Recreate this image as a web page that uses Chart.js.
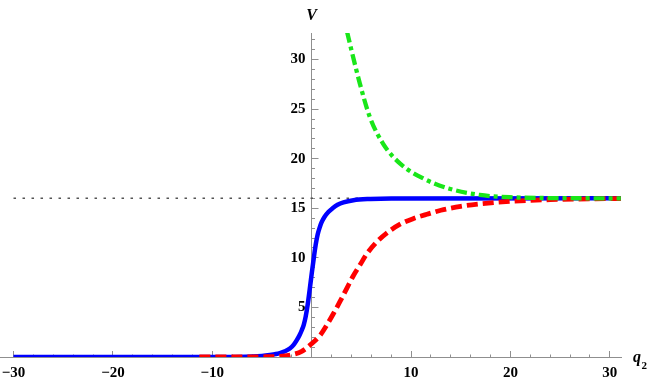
<!DOCTYPE html>
<html>
<head>
<meta charset="utf-8">
<script src="https://cdn.jsdelivr.net/npm/chart.js@4/dist/chart.umd.min.js"></script>
<style>
html, body { margin: 0; padding: 0; background: #ffffff; }
#wrap { width: 653px; height: 382px; position: relative; }
</style>
</head>
<body>
<div id="wrap"><canvas id="c"></canvas></div>
<script>
// ---- data ----
const blueQ = [-30, -12, -8, -6, -5, -4.2, -3.6, -3.2, -2.7, -2.2, -1.8, -1.5, -1.2, -1.0, -0.8, -0.6, -0.4, -0.2, 0, 0.2, 0.4, 0.6, 0.8, 1.0, 1.3, 1.7, 2.1, 2.6, 3.2, 4.2, 5.9, 8, 31.1];
const blueV = [0, 0, 0.01, 0.04, 0.1, 0.2, 0.3, 0.4, 0.58, 0.85, 1.25, 1.7, 2.25, 2.7, 3.25, 4.1, 5.3, 6.8, 8.4, 9.9, 11.3, 12.35, 13.05, 13.6, 14.15, 14.65, 15.0, 15.35, 15.6, 15.82, 15.94, 15.99, 16];

const redQ = [-11.3, -7, -5, -3.2, -1.85, -1, 0, 0.84, 1.5, 2.18, 2.85, 3.52, 4.19, 4.87, 5.54, 6.54, 7.55, 8.9, 10.2, 11.6, 13, 15, 17, 20, 24, 28, 31.1];
const redV = [0, 0.005, 0.02, 0.06, 0.27, 0.57, 1.35, 2.18, 3.19, 4.36, 5.6, 6.9, 8.2, 9.3, 10.4, 11.6, 12.5, 13.4, 13.95, 14.4, 14.8, 15.2, 15.45, 15.7, 15.87, 15.95, 15.98];

const greenQ = [3.56, 4.0, 4.84, 5.85, 7.19, 8.9, 11.25, 13.77, 16.9, 20.3, 24, 28, 31.1];
const greenV = [32.8, 30.95, 27.6, 24.2, 21.5, 19.5, 18.0, 17.0, 16.35, 16.1, 16.03, 16.01, 16.0];

const asymptoteQ = [-30, 31.1];
const asymptoteV = [16, 16];

// ---- axes / ticks ----
const X_MIN = -31.36, X_MAX = 31.12;
const Y_MIN = 0, Y_MAX = 32.68;
const xMinorTicks = [-30, -28, -26, -24, -22, -20, -18, -16, -14, -12, -10, -8, -6, -4, -2, 0, 2, 4, 6, 8, 10, 12, 14, 16, 18, 20, 22, 24, 26, 28, 30];
const xMajorTicks = [-30, -20, -10, 10, 20, 30];
const xTickLabels = ['\u221230', '\u221220', '\u221210', '10', '20', '30'];
const yMinorTicks = [1, 2, 3, 4, 5, 6, 7, 8, 9, 10, 11, 12, 13, 14, 15, 16, 17, 18, 19, 20, 21, 22, 23, 24, 25, 26, 27, 28, 29, 30, 31, 32];
const yMajorTicks = [5, 10, 15, 20, 25, 30];
const yTickLabels = ['5', '10', '15', '20', '25', '30'];
const xAxisTitle = 'q';
const xAxisTitleSub = '2';
const yAxisTitle = 'V';

const AXIS = '#8f8f8f';
const LABEL_FONT = { family: "'Liberation Serif', 'Times New Roman', serif", weight: 'bold', size: 15 };

const pts = (qs, vs) => qs.map((q, i) => ({ x: q, y: vs[i] }));

const setTicks = (list) => (s) => { s.ticks = list.map(v => ({ value: v })); };

const axisTitles = {
  id: 'axisTitles',
  afterDraw(chart) {
    const { ctx } = chart;
    const x = chart.scales.x, y = chart.scales.y;
    const x0 = x.getPixelForValue(0);
    const y0 = y.getPixelForValue(0);
    ctx.save();
    ctx.fillStyle = '#000';
    ctx.textBaseline = 'alphabetic';
    ctx.font = "italic bold 16px 'Liberation Serif', serif";
    ctx.textAlign = 'center';
    ctx.fillText(yAxisTitle, x0, y.top - 13);
    ctx.textAlign = 'left';
    ctx.fillText(xAxisTitle, x.right + 12, y0 + 5);
    ctx.font = "bold 11px 'Liberation Serif', serif";
    ctx.fillText(xAxisTitleSub, x.right + 20.5, y0 + 12);
    ctx.restore();
  }
};

new Chart(document.getElementById('c'), {
  type: 'line',
  data: {
    datasets: [
      { data: pts(asymptoteQ, asymptoteV), borderColor: '#555555', borderWidth: 1.5, borderDash: [2.5, 6.5], pointRadius: 0, order: 4 },
      { data: pts(blueQ, blueV), borderColor: '#0000ff', borderWidth: 4.5, borderJoinStyle: 'round', pointRadius: 0, cubicInterpolationMode: 'monotone', order: 3 },
      { data: pts(redQ, redV), borderColor: '#ff0000', borderWidth: 4.8, borderDash: [11, 5], pointRadius: 0, cubicInterpolationMode: 'monotone', order: 2 },
      { data: pts(greenQ, greenV), borderColor: '#19e619', borderWidth: 4.3, borderDash: [11, 4, 4, 4], pointRadius: 0, cubicInterpolationMode: 'monotone', order: 1 }
    ]
  },
  options: {
    responsive: true,
    maintainAspectRatio: false,
    animation: false,
    devicePixelRatio: 1,
    layout: { padding: { left: 0, right: 32, top: 33, bottom: 25 } },
    plugins: { legend: { display: false }, tooltip: { enabled: false } },
    scales: {
      x: {
        type: 'linear', min: X_MIN, max: X_MAX, position: { y: 0 },
        afterBuildTicks: setTicks(xMinorTicks),
        grid: { display: true, drawOnChartArea: false, drawTicks: true, tickLength: -3.5, tickColor: AXIS, tickWidth: 1 },
        border: { display: true, color: AXIS, width: 1 },
        ticks: { display: false, autoSkip: false }
      },
      x2: {
        type: 'linear', axis: 'x', min: X_MIN, max: X_MAX, position: { y: 0 },
        afterBuildTicks: setTicks(xMajorTicks),
        grid: { display: true, drawOnChartArea: false, drawTicks: true, tickLength: -6, tickColor: AXIS, tickWidth: 1 },
        border: { display: false },
        ticks: { display: false, autoSkip: false }
      },
      x3: {
        type: 'linear', axis: 'x', min: X_MIN, max: X_MAX, position: { y: 0 },
        afterBuildTicks: setTicks(xMajorTicks),
        grid: { display: true, drawOnChartArea: false, drawTicks: true, tickLength: 7, tickColor: 'rgba(0,0,0,0)' },
        border: { display: false },
        ticks: { display: true, autoSkip: false, maxRotation: 0, padding: 0, color: '#000', font: LABEL_FONT,
                 callback: (v) => xTickLabels[xMajorTicks.indexOf(v)] }
      },
      y: {
        type: 'linear', min: Y_MIN, max: Y_MAX, position: { x: 0 },
        afterBuildTicks: setTicks(yMinorTicks),
        grid: { display: true, drawOnChartArea: false, drawTicks: true, tickLength: -4, tickColor: AXIS, tickWidth: 1 },
        border: { display: true, color: AXIS, width: 1 },
        ticks: { display: false, autoSkip: false }
      },
      y2: {
        type: 'linear', axis: 'y', min: Y_MIN, max: Y_MAX, position: { x: 0 },
        afterBuildTicks: setTicks(yMajorTicks),
        grid: { display: true, drawOnChartArea: false, drawTicks: true, tickLength: -6.5, tickColor: AXIS, tickWidth: 1 },
        border: { display: false },
        ticks: { display: false, autoSkip: false }
      },
      y3: {
        type: 'linear', axis: 'y', min: Y_MIN, max: Y_MAX, position: { x: -0.62 },
        afterBuildTicks: setTicks(yMajorTicks),
        grid: { display: false },
        border: { display: false },
        ticks: { display: true, autoSkip: false, padding: 0, color: '#000', font: LABEL_FONT,
                 callback: (v) => yTickLabels[yMajorTicks.indexOf(v)] }
      }
    }
  },
  plugins: [axisTitles]
});
</script>
</body>
</html>
